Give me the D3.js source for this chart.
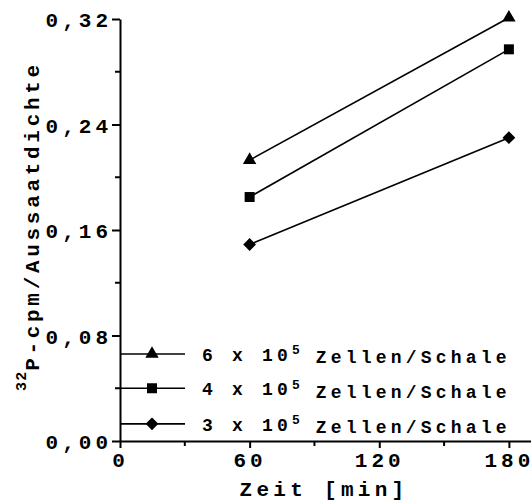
<!DOCTYPE html>
<html>
<head>
<meta charset="utf-8">
<script src="https://cdn.jsdelivr.net/npm/d3@7"></script>
<style>
  html, body { margin: 0; padding: 0; background: #fff; }
  svg { display: block; }
  text { font-family: "Courier New", "Liberation Mono", monospace; font-weight: bold; fill: #000; }
</style>
</head>
<body>
<svg id="chart" width="532" height="502"></svg>
<script>
// Incubation times (min)
const times = [60, 180];
// Series: labelled by seeding density
const seriesNames = ["6", "4", "3"];
const seriesSymbols = ["triangle", "square", "diamond"];
const values6 = [0.213, 0.321];
const values4 = [0.185, 0.297];
const values3 = [0.149, 0.230];
// Axis ticks
const xTicks = [0, 60, 120, 180];
const xMinorTicks = [30, 90, 150];
const yTicks = [0, 0.08, 0.16, 0.24, 0.32];
const yMinorTicks = [0.04, 0.12, 0.20, 0.28];
// Legend row positions in data units (y)
const legendY = [0.066, 0.040, 0.013];

const seriesValues = [values6, values4, values3];

const svg = d3.select("#chart");
const x = d3.scaleLinear().domain([0, 190]).range([120, 530.5]);
const y = d3.scaleLinear().domain([0, 0.32]).range([441, 19]);

const de = d3.formatLocale({ decimal: ",", thousands: ".", grouping: [3], currency: ["", " €"] });
const fmtY = de.format(".2f");

const symbolPath = {
  triangle: d3.symbol(d3.symbolTriangle, 78)(),
  square: d3.symbol(d3.symbolSquare, 100)(),
  diamond: d3.symbol(d3.symbolSquare, 82)()
};
const symbolRotate = { triangle: 0, square: 0, diamond: 45 };

// Y axis
const yAxis = svg.append("g").attr("transform", `translate(${x(0)},0)`)
  .call(d3.axisLeft(y).tickValues(yTicks).tickFormat(fmtY).tickSize(8).tickPadding(0).tickSizeOuter(0));
yAxis.select(".domain").attr("stroke-width", 2);
yAxis.selectAll(".tick line").attr("stroke-width", 2);
yAxis.selectAll(".tick text").style("font-size", "21px").attr("letter-spacing", "4px").attr("dy", "0.36em");
svg.append("g").selectAll("line").data(yMinorTicks).join("line")
  .attr("x1", x(0) - 5).attr("x2", x(0)).attr("y1", d => y(d)).attr("y2", d => y(d))
  .attr("stroke", "#000").attr("stroke-width", 2);

// X axis
const xAxis = svg.append("g").attr("transform", `translate(0,${y(0)})`)
  .call(d3.axisBottom(x).tickValues(xTicks).tickFormat(d3.format("d")).tickSize(7).tickPadding(3).tickSizeOuter(0));
xAxis.select(".domain").attr("stroke-width", 2);
xAxis.selectAll(".tick line").attr("stroke-width", 2);
xAxis.selectAll(".tick text").style("font-size", "21px").attr("letter-spacing", "4px").attr("dy", "0.75em");
svg.append("g").selectAll("line").data(xMinorTicks).join("line")
  .attr("x1", d => x(d)).attr("x2", d => x(d)).attr("y1", y(0)).attr("y2", y(0) + 5)
  .attr("stroke", "#000").attr("stroke-width", 2);

// Axis titles
svg.append("text")
  .attr("x", 324).attr("y", 496)
  .attr("text-anchor", "middle")
  .style("font-size", "21px").attr("letter-spacing", "4.3px")
  .text("Zeit [min]");

const yTitle = svg.append("text")
  .attr("transform", `translate(35,226) rotate(-90)`)
  .attr("text-anchor", "middle")
  .style("font-size", "21px").attr("letter-spacing", "3.7px");
yTitle.append("tspan").attr("dy", "-0.6em").style("font-size", "15px").attr("letter-spacing", "1px").text("32");
yTitle.append("tspan").attr("dy", "0.6em").text("P-cpm/Aussaatdichte");

// Data lines and markers
const line = d3.line().x((d, i) => x(times[i])).y(d => y(d));
seriesValues.forEach((vals, si) => {
  svg.append("path").datum(vals)
    .attr("d", line).attr("fill", "none").attr("stroke", "#000").attr("stroke-width", 1.6);
  svg.append("g").selectAll("path").data(vals).join("path")
    .attr("d", symbolPath[seriesSymbols[si]])
    .attr("transform", (d, i) => `translate(${x(times[i])},${y(d)}) rotate(${symbolRotate[seriesSymbols[si]]})`)
    .attr("fill", "#000");
});

// Legend
const legend = svg.append("g");
seriesNames.forEach((name, i) => {
  const ly = y(legendY[i]);
  legend.append("line").attr("x1", x(0)).attr("x2", x(0) + 65).attr("y1", ly).attr("y2", ly)
    .attr("stroke", "#000").attr("stroke-width", 1.6);
  legend.append("path").attr("d", symbolPath[seriesSymbols[i]])
    .attr("transform", `translate(${x(0) + 32},${ly}) rotate(${symbolRotate[seriesSymbols[i]]})`)
    .attr("fill", "#000");
  const t = legend.append("text").attr("x", 202).attr("y", ly + 7)
    .style("font-size", "18px").attr("letter-spacing", "4.2px");
  t.append("tspan").text(`${name} x 10`);
  t.append("tspan").attr("dy", "-0.5em").style("font-size", "13px").attr("letter-spacing", "1px").text("5");
  t.append("tspan").attr("dy", "0.5em").text(" Zellen/Schale");
});
</script>
</body>
</html>
